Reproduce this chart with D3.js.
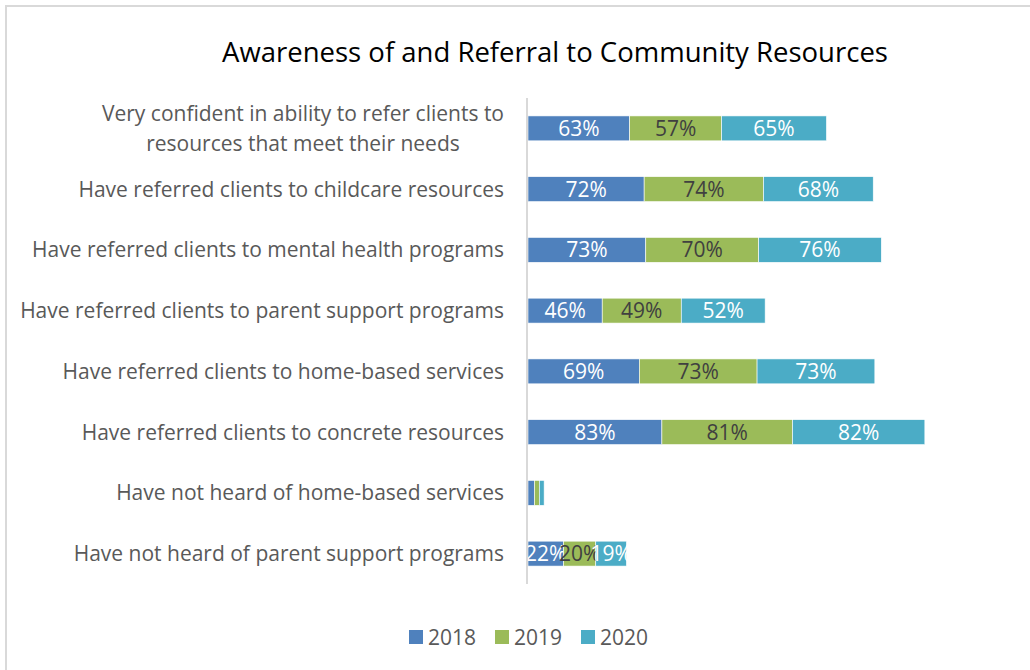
<!DOCTYPE html>
<html>
<head>
<meta charset="utf-8">
<script src="https://cdn.jsdelivr.net/npm/d3@7.9.0/dist/d3.min.js"></script>
<style>
  html, body { margin: 0; padding: 0; background: #fff; }
  svg { display: block; font-family: "Open Sans", sans-serif; }
</style>
</head>
<body>
<svg id="chart" width="1030" height="670"></svg>
<script>
const categories = [
  'Very confident in ability to refer clients to|resources that meet their needs',
  'Have referred clients to childcare resources',
  'Have referred clients to mental health programs',
  'Have referred clients to parent support programs',
  'Have referred clients to home-based services',
  'Have referred clients to concrete resources',
  'Have not heard of home-based services',
  'Have not heard of parent support programs'
];
const years = ['2018', '2019', '2020'];
const v2018 = [63, 72, 73, 46, 69, 83, 4, 22];
const v2019 = [57, 74, 70, 49, 73, 81, 3, 20];
const v2020 = [65, 68, 76, 52, 73, 82, 3, 19];

const colors = ['#4f81bd', '#9bbb59', '#4bacc6'];
const labelColors = ['#fff', '#404040', '#fff'];

const rows = categories.map((c, i) => ({ cat: c, '2018': v2018[i], '2019': v2019[i], '2020': v2020[i] }));

const svg = d3.select('#chart');

// outer frame
svg.append('rect')
  .attr('x', 6).attr('y', 6)
  .attr('width', 1040).attr('height', 680)
  .attr('fill', 'none')
  .attr('stroke', '#d9d9d9')
  .attr('stroke-width', 2);

svg.append('text')
  .attr('x', 555).attr('y', 62)
  .attr('text-anchor', 'middle')
  .attr('font-size', 27.5)
  .attr('fill', '#000')
  .text('Awareness of and Referral to Community Resources');

const x = d3.scaleLinear().domain([0, 250]).range([528, 931.3]);
const y = d3.scaleBand().domain(categories).range([98, 584])
  .paddingInner(0.59).paddingOuter(0.295);

const series = d3.stack().keys(years)(rows);

const g = svg.append('g');
series.forEach((s, k) => {
  g.selectAll(null)
    .data(s)
    .join('rect')
      .attr('x', d => x(d[0]))
      .attr('y', d => y(d.data.cat))
      .attr('width', d => x(d[1]) - x(d[0]))
      .attr('height', y.bandwidth())
      .attr('fill', colors[k])
      .attr('stroke', '#fff')
      .attr('stroke-width', 0.6);

  g.selectAll(null)
    .data(s.filter(d => d[1] - d[0] >= 10))
    .join('text')
      .attr('x', d => (x(d[0]) + x(d[1])) / 2)
      .attr('y', d => y(d.data.cat) + y.bandwidth() / 2)
      .attr('dy', '0.36em')
      .attr('text-anchor', 'middle')
      .attr('font-size', 21)
      .attr('fill', labelColors[k])
      .text(d => (d[1] - d[0]) + '%');
});

// vertical axis line
svg.append('line')
  .attr('x1', 527).attr('x2', 527)
  .attr('y1', 98).attr('y2', 584)
  .attr('stroke', '#d9d9d9')
  .attr('stroke-width', 2);

// category labels
categories.forEach(c => {
  const lines = c.split('|');
  const cy = y(c) + y.bandwidth() / 2;
  const t = svg.append('text')
    .attr('font-size', 21)
    .attr('fill', '#595959');
  if (lines.length === 1) {
    t.attr('x', 504).attr('y', cy).attr('dy', '0.36em')
      .attr('text-anchor', 'end').text(c);
  } else {
    // two-line label, lines centred on each other, right edge at 504
    t.attr('text-anchor', 'middle');
    const spans = lines.map((l, i) => t.append('tspan')
      .attr('y', cy + (i - 0.5) * 30).attr('dy', '0.36em').text(l));
    const w = d3.max(spans, s => s.node().getComputedTextLength());
    spans.forEach(s => s.attr('x', 504 - w / 2));
  }
});

// legend
const legend = svg.append('g');
years.forEach((yr, i) => {
  const lx = 409 + i * 86;
  legend.append('rect')
    .attr('x', lx).attr('y', 630)
    .attr('width', 14).attr('height', 14)
    .attr('fill', colors[i]);
  legend.append('text')
    .attr('x', lx + 19).attr('y', 637)
    .attr('dy', '0.36em')
    .attr('font-size', 21)
    .attr('fill', '#595959')
    .text(yr);
});
</script>
</body>
</html>
